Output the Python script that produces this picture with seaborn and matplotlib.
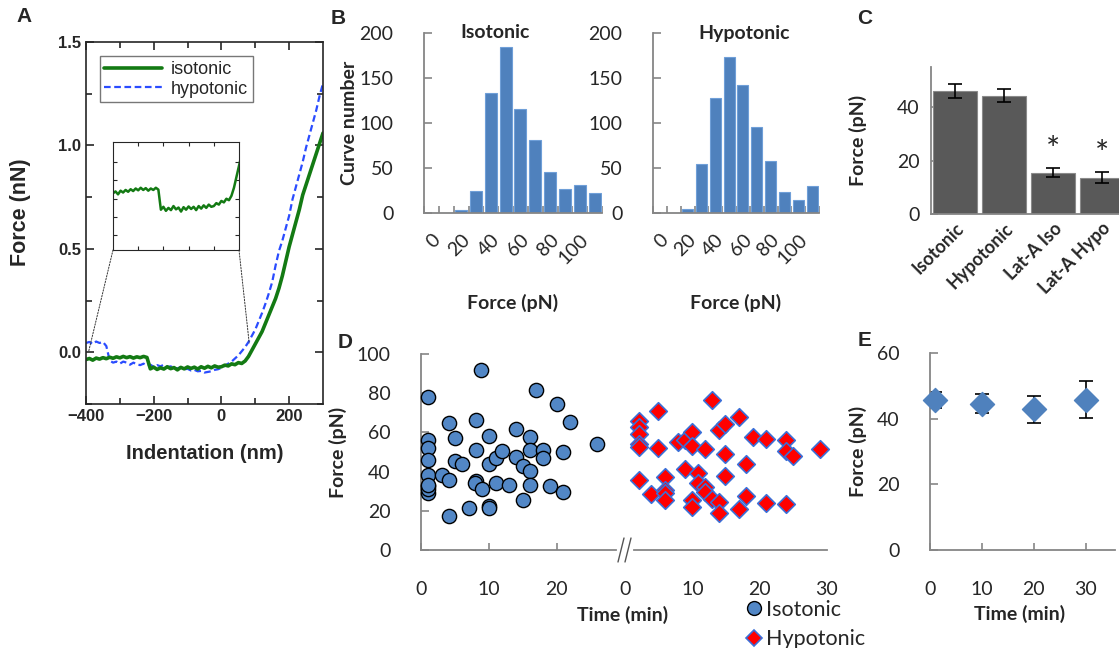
import numpy as np
import pandas as pd
import seaborn as sns
import matplotlib.pyplot as plt
from matplotlib.lines import Line2D
from matplotlib.patches import ConnectionPatch

# ---------------- data ----------------
# panel A: force curves (read every 10 nm)
indent_nm = [-400, -390, -380, -370, -360, -350, -340, -330, -320, -310,
             -300, -290, -280, -270, -260, -250, -240, -230, -220, -210,
             -200, -190, -180, -170, -160, -150, -140, -130, -120, -110,
             -100, -90, -80, -70, -60, -50, -40, -30, -20, -10,
             0, 10, 20, 30, 40, 50, 60, 70, 80, 90,
             100, 110, 120, 130, 140, 150, 160, 170, 180, 190,
             200, 210, 220, 230, 240, 250, 260, 270, 280, 290, 300]
force_iso = [-0.035, -0.030, -0.038, -0.028, -0.033, -0.026, -0.031, -0.024, -0.029, -0.022,
             -0.027, -0.020, -0.026, -0.021, -0.028, -0.022, -0.026, -0.020, -0.025, -0.080,
             -0.072, -0.083, -0.075, -0.081, -0.070, -0.079, -0.074, -0.085, -0.073, -0.080,
             -0.071, -0.078, -0.072, -0.081, -0.070, -0.077, -0.068, -0.075, -0.066, -0.072,
             -0.070, -0.062, -0.066, -0.056, -0.060, -0.050, -0.054, -0.042, -0.020, 0.010,
             0.040, 0.070, 0.100, 0.140, 0.180, 0.220, 0.260, 0.310, 0.370, 0.440,
             0.510, 0.570, 0.630, 0.690, 0.760, 0.810, 0.860, 0.910, 0.960, 1.010, 1.060]
force_hypo = [0.045, 0.050, 0.040, 0.052, 0.045, 0.050, 0.030, -0.040, -0.050, -0.045,
              -0.055, -0.045, -0.050, -0.060, -0.050, -0.058, -0.062, -0.055, -0.065, -0.060,
              -0.070, -0.062, -0.068, -0.060, -0.072, -0.068, -0.075, -0.078, -0.072, -0.082,
              -0.080, -0.088, -0.085, -0.092, -0.090, -0.098, -0.095, -0.092, -0.085, -0.082,
              -0.075, -0.065, -0.055, -0.045, -0.030, -0.015, 0.005, 0.025, 0.050, 0.080,
              0.110, 0.150, 0.190, 0.235, 0.285, 0.340, 0.420, 0.490, 0.540, 0.600,
              0.660, 0.740, 0.800, 0.860, 0.920, 0.990, 1.050, 1.110, 1.170, 1.240, 1.300]

# panel B: histograms (10 pN bins)
bin_start = [0, 10, 20, 30, 40, 50, 60, 70, 80, 90, 100, 110]
hist_iso = [0, 0, 3, 25, 133, 184, 116, 81, 46, 27, 31, 22]
hist_hypo = [0, 0, 5, 54, 128, 173, 142, 96, 58, 23, 15, 30]
bin_labels = ["0", "20", "40", "60", "80", "100"]

# panel C: mean force
c_groups = ["Isotonic", "Hypotonic", "Lat-A Iso", "Lat-A Hypo"]
c_means = [46.0, 44.3, 15.4, 13.6]
c_err = [2.5, 2.4, 1.7, 2.0]

# panel D: force vs time
iso_time = [1.1, 1.1, 1.1, 1.1, 1.1, 1.1, 1.0, 1.0, 1.0, 3.1, 4.1, 4.1, 4.1, 5.0, 5.0,
            6.1, 7.1, 8.1, 8.1, 8.1, 7.9, 8.9, 9.0, 10.1, 10.0, 10.1, 10.1, 11.0, 11.0,
            12.0, 13.0, 14.0, 14.0, 15.0, 15.0, 16.0, 16.0, 16.0, 16.0, 17.0, 18.0, 18.0,
            19.0, 20.0, 21.0, 21.0, 21.9, 25.9]
iso_force = [77.9, 55.9, 52.0, 46.0, 38.2, 32.7, 29.0, 31.0, 33.0, 38.2, 64.7, 35.8, 17.5,
             57.0, 45.5, 43.8, 21.3, 66.4, 51.0, 35.4, 34.0, 92.0, 31.0, 58.3, 44.0, 22.5,
             21.3, 47.0, 34.4, 50.6, 33.4, 61.7, 47.2, 43.1, 25.4, 57.4, 50.8, 40.4, 33.0,
             81.6, 51.1, 46.8, 32.7, 74.4, 50.1, 29.5, 65.2, 54.2]
hypo_time = [2.0, 2.0, 2.0, 2.0, 2.0, 2.0, 3.9, 4.9, 4.9, 5.9, 5.9, 5.9, 5.9, 7.8, 8.9,
             8.9, 9.9, 9.9, 9.9, 9.9, 10.8, 10.8, 11.9, 11.9, 11.9, 12.9, 12.9, 13.9, 13.9,
             13.9, 14.9, 14.9, 14.9, 16.9, 16.9, 17.9, 17.9, 19.0, 20.9, 20.9, 23.9, 23.9,
             23.9, 25.0, 29.0]
hypo_force = [65.6, 62.7, 59.1, 54.2, 52.5, 35.6, 28.4, 70.7, 52.0, 37.1, 30.7, 29.3, 25.6,
              54.9, 56.2, 41.2, 60.0, 53.2, 25.6, 21.8, 39.5, 34.4, 51.4, 32.0, 29.8, 76.7,
              25.9, 61.3, 24.5, 19.1, 64.4, 48.9, 38.0, 68.1, 20.8, 44.0, 27.6, 57.9, 56.6,
              23.9, 56.2, 50.3, 23.5, 48.0, 51.6]

# panel E: mean force per time window
e_time = [1, 10, 20, 30]
e_force = [45.8, 44.6, 42.8, 45.8]
e_err = [2.4, 3.0, 4.2, 5.7]

# ---------------- style ----------------
sns.set_style("ticks")
plt.rcParams['font.family'] = ['Lato', 'DejaVu Sans']
plt.rcParams['axes.linewidth'] = 1.0

W, H = 1119, 648
fig = plt.figure(figsize=(W / 100, H / 100), dpi=100)


def rect(l, t, r, b):
    return [l / W, 1 - b / H, (r - l) / W, (b - t) / H]


XL = '#4f81bd'
GRAY = '#868686'
ARIAL = ['Liberation Sans', 'DejaVu Sans']


def excel_axes(ax):
    sns.despine(ax=ax)
    for s in ['left', 'bottom']:
        ax.spines[s].set_color(GRAY)
        ax.spines[s].set_linewidth(1.3)
    ax.tick_params(axis='both', which='both', direction='in', color=GRAY,
                   labelsize=13, width=1.2)
    ax.set_facecolor('none')


# ---------------- panel A ----------------
axA = fig.add_axes(rect(86, 42, 323, 404))
dfA = pd.DataFrame({'x': indent_nm, 'iso': force_iso, 'hypo': force_hypo})
sns.lineplot(data=dfA, x='x', y='hypo', ax=axA, color='#2a4cff', lw=1.6,
             linestyle=(0, (3, 1.6)), label='hypotonic')
sns.lineplot(data=dfA, x='x', y='iso', ax=axA, color='#137a13', lw=2.6,
             label='isotonic')
axA.set_xlim(-400, 300)
axA.set_ylim(-0.2, 1.5)
axA.set_xticks([-400, -200, 0, 200])
axA.set_xticks([-300, -100, 100], minor=True)
axA.set_yticks([0.0, 0.5, 1.0, 1.5])
axA.set_yticks([-0.25, 0.25, 0.75, 1.25], minor=True)
axA.set_yticklabels(['0.0', '0.5', '1.0', '1.5'])
axA.tick_params(which='both', direction='in', top=True, right=True, width=1.2)
axA.tick_params(which='major', length=6)
axA.tick_params(which='minor', length=4)
for s in axA.spines.values():
    s.set_linewidth(1.2)
for lab in axA.get_xticklabels() + axA.get_yticklabels():
    lab.set_family(ARIAL)
    lab.set_fontweight('bold')
    lab.set_fontsize(12)
axA.set_xlabel('Indentation (nm)', family=ARIAL, fontweight='bold', fontsize=14.5)
axA.set_ylabel('Force (nN)', family=ARIAL, fontweight='bold', fontsize=15.5)
axA.xaxis.set_label_coords(0.5, -0.11)
axA.yaxis.set_label_coords(-0.23, 0.53)
h, l = axA.get_legend_handles_labels()
legA = axA.legend(h[::-1], l[::-1], loc='upper left', bbox_to_anchor=(0.02, 0.985),
                  frameon=True, fancybox=False, edgecolor='#555555',
                  prop={'family': ARIAL, 'size': 13}, handlelength=3.2,
                  borderpad=0.25, labelspacing=0.15, handletextpad=0.5)
legA.get_frame().set_linewidth(1.0)

# inset
axI = fig.add_axes(rect(113, 142, 239, 250))
sns.lineplot(data=dfA, x='x', y='iso', ax=axI, color='#137a13', lw=1.8)
axI.set_xlim(-400, 100)
axI.set_ylim(-0.19, 0.105)
axI.set_xticks([-300, -200, -100, 0])
axI.set_yticks([-0.15, -0.1, -0.05, 0.0, 0.05])
axI.tick_params(direction='in', top=True, right=True, length=3, width=0.8,
                labelbottom=False, labelleft=False)
axI.set_xlabel('')
axI.set_ylabel('')
for s in axI.spines.values():
    s.set_linewidth(0.8)
for xyA, xyB in [((0, 0), (-392, 0.005)), ((1, 0), (82, 0.045))]:
    con = ConnectionPatch(xyA=xyA, coordsA=axI.transAxes, xyB=xyB,
                          coordsB=axA.transData, ls=(0, (1.5, 1.5)),
                          lw=0.7, color='#333333')
    fig.add_artist(con)

# ---------------- panel B ----------------
for pos, counts, title, tx in [((424, 33, 602, 213), hist_iso, 'Isotonic', 0.40),
                               ((653, 33, 819, 213), hist_hypo, 'Hypotonic', 0.55)]:
    ax = fig.add_axes(rect(*pos))
    sns.barplot(x=bin_start, y=counts, ax=ax, color=XL, saturation=1,
                width=0.8, edgecolor='#6f9fd8', linewidth=0.8)
    excel_axes(ax)
    ax.set_xlim(-0.5, 11.5)
    ax.set_ylim(0, 200)
    ax.set_yticks([0, 50, 100, 150, 200])
    ax.set_xticks([0, 2, 4, 6, 8, 10])
    ax.set_xticklabels(bin_labels, rotation=45, ha='right', va='top',
                       rotation_mode='anchor', fontsize=14)
    ax.tick_params(axis='x', which='major', length=0, pad=13)
    ax.set_xticks(np.arange(-0.5, 12, 1), minor=True)
    ax.tick_params(axis='x', which='minor', length=5)
    ax.tick_params(axis='y', length=6, pad=22, labelsize=14)
    ax.text(tx, 1.0, title, transform=ax.transAxes, ha='center', va='center',
            fontsize=14, fontweight='bold')
    ax.set_xlabel('Force (pN)', fontsize=14, fontweight='bold')
    ax.xaxis.set_label_coords(0.5, -0.45)
    if title == 'Isotonic':
        ax.set_ylabel('Curve number', fontsize=14, fontweight='bold')
        ax.yaxis.set_label_coords(-0.37, 0.5)
    else:
        ax.set_ylabel('')

# ---------------- panel C ----------------
axC = fig.add_axes(rect(931, 67, 1126, 214))
sns.barplot(x=c_groups, y=c_means, ax=axC, color='#595959', saturation=1,
            width=0.9, edgecolor='#8a8a8a', linewidth=0.8)
axC.errorbar(range(len(c_groups)), c_means, yerr=c_err, fmt='none',
             ecolor='black', elinewidth=1.2, capsize=5, capthick=1.2)
for i in [2, 3]:
    axC.text(i, c_means[i] + c_err[i] + 1.0, '*', ha='center', va='bottom',
             fontsize=24)
excel_axes(axC)
axC.set_xlim(-0.5, 3.5)
axC.set_ylim(0, 55)
axC.set_yticks([0, 20, 40])
axC.tick_params(axis='y', length=5, pad=8, labelsize=14)
axC.tick_params(axis='x', length=0, pad=4)
axC.set_xticks(range(4))
axC.set_xticklabels(c_groups, rotation=45, ha='right', va='top',
                    rotation_mode='anchor', fontweight='bold', fontsize=13)
axC.set_xlabel('')
axC.set_ylabel('Force (pN)', fontsize=14, fontweight='bold')
axC.yaxis.set_label_coords(-0.33, 0.5)

# ---------------- panel D ----------------
axD1 = fig.add_axes(rect(421, 354, 617, 550))
axD2 = fig.add_axes(rect(619, 354, 827, 550))
sns.scatterplot(x=iso_time, y=iso_force, ax=axD1, marker='o', s=105,
                color='#5287c6', edgecolor='black', linewidth=1.0, zorder=3,
                clip_on=False)
sns.scatterplot(x=hypo_time, y=hypo_force, ax=axD2, marker='D', s=80,
                color='#ff0000', edgecolor='#3a6fd8', linewidth=1.2, zorder=3,
                clip_on=False)
for ax in (axD1, axD2):
    excel_axes(ax)
    ax.set_ylim(0, 100)
    ax.tick_params(axis='x', length=5, pad=22, labelsize=14)
axD1.set_xlim(0, 28.9)
axD1.spines['bottom'].set_bounds(0, 28.7)
axD1.set_xticks([0, 10, 20])
axD1.set_yticks([0, 20, 40, 60, 80, 100])
axD1.tick_params(axis='y', length=6, pad=22, labelsize=14)
axD1.set_ylabel('Force (pN)', fontsize=14, fontweight='bold')
axD1.yaxis.set_label_coords(-0.38, 0.5)
axD2.set_xlim(-0.9, 30)
axD2.spines['left'].set_visible(False)
axD2.spines['bottom'].set_bounds(1.4, 30)
axD2.set_yticks([])
axD2.set_xticks([0, 10, 20, 30])
axD2.tick_params(axis='x', length=0)
axD2.set_xticks([10, 20, 30], minor=True)
axD2.tick_params(axis='x', which='minor', length=5, color=GRAY, width=1.2)
for x0 in (619, 626):
    fig.add_artist(Line2D([(x0 - 1) / W, (x0 + 5) / W],
                          [1 - 562 / H, 1 - 538 / H], color='#555555', lw=1.0))

fig.text(623 / W, 1 - 615 / H, 'Time (min)', ha='center', va='center',
         fontsize=14, fontweight='bold')
legD = [Line2D([], [], ls='none', marker='o', ms=10, mfc='#5287c6', mec='black',
               mew=1.0, label='Isotonic'),
        Line2D([], [], ls='none', marker='D', ms=8.5, mfc='#ff0000', mec='#3a6fd8',
               mew=1.2, label='Hypotonic')]
fig.legend(handles=legD, loc='upper left', bbox_to_anchor=(732 / W, 1 - 589 / H),
           frameon=False, fontsize=15.5, handletextpad=0.1, labelspacing=0.45,
           borderpad=0, handlelength=1.0)

# ---------------- panel E ----------------
axE = fig.add_axes(rect(930, 353, 1115, 550))
axE.errorbar(e_time, e_force, yerr=e_err, fmt='none', ecolor='black',
             elinewidth=1.2, capsize=5, capthick=1.2, zorder=2)
sns.scatterplot(x=e_time, y=e_force, ax=axE, marker='D', s=150, color=XL,
                edgecolor=XL, linewidth=1, zorder=3, clip_on=False)
excel_axes(axE)
axE.set_xlim(0, 35.6)
axE.set_ylim(0, 60)
axE.set_yticks([0, 20, 40, 60])
axE.set_xticks([0, 10, 20, 30])
axE.tick_params(axis='y', length=6, pad=22, labelsize=14)
axE.tick_params(axis='x', length=5, pad=22, labelsize=14)
axE.set_ylabel('Force (pN)', fontsize=14, fontweight='bold')
axE.yaxis.set_label_coords(-0.34, 0.5)
fig.text(1020 / W, 1 - 614 / H, 'Time (min)', ha='center', va='center',
         fontsize=14, fontweight='bold')

# ---------------- panel letters ----------------
for letter, (px, py) in {'A': (24, 17), 'B': (338, 19), 'C': (865, 19),
                         'D': (345, 342), 'E': (865, 340)}.items():
    fig.text(px / W, 1 - py / H, letter, ha='center', va='center',
             fontsize=15, fontweight='bold', family=ARIAL)

fig.savefig('out.png', dpi=100)
plt.close(fig)
